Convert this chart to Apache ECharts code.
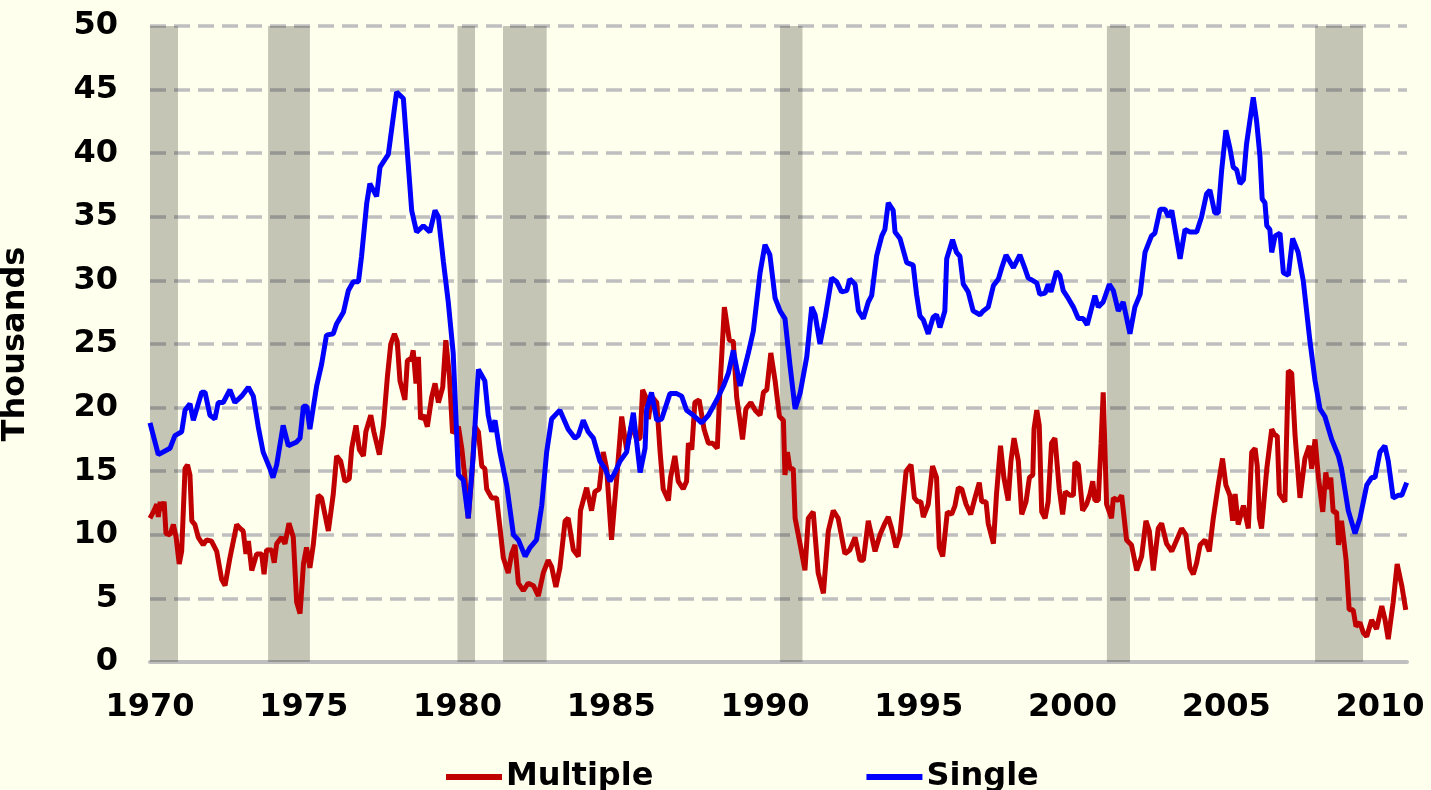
<!DOCTYPE html>
<html>
<head>
<meta charset="utf-8">
<script src="https://cdn.jsdelivr.net/npm/echarts@6/dist/echarts.min.js"></script>
<style>
  html, body { margin: 0; padding: 0; background: #FFFFEE; }
  #chart { width: 1431px; height: 790px; }
</style>
</head>
<body>
<div id="chart"></div>
<script>
// recession periods (start, end) in decimal years
const recessions = [[1970.0, 1970.91], [1973.84, 1975.2], [1980.0, 1980.57], [1981.48, 1982.9],
  [1990.49, 1991.22], [2001.12, 2001.87], [2007.89, 2009.45]];

// multi-unit starts, thousands  [decimal year, value]
const multiple = [[1970.0,11.3],[1970.11,11.8],[1970.22,12.4],[1970.27,11.4],[1970.33,12.6],[1970.38,11.9],[1970.46,12.6],[1970.52,10.1],[1970.65,10.0],[1970.76,10.8],[1970.85,9.8],[1970.95,7.7],[1971.03,8.7],[1971.14,15.2],[1971.22,15.5],[1971.3,14.7],[1971.36,11.1],[1971.46,10.8],[1971.57,9.8],[1971.73,9.2],[1971.84,9.6],[1972.0,9.5],[1972.17,8.7],[1972.33,6.5],[1972.44,6.0],[1972.6,8.2],[1972.82,10.8],[1972.93,10.5],[1973.03,10.3],[1973.12,8.5],[1973.2,9.5],[1973.31,7.2],[1973.47,8.5],[1973.63,8.5],[1973.71,6.9],[1973.79,8.8],[1973.96,8.8],[1974.04,7.8],[1974.12,9.3],[1974.28,9.8],[1974.39,9.3],[1974.52,10.9],[1974.66,9.8],[1974.77,4.7],[1974.88,3.8],[1974.99,7.7],[1975.09,9.0],[1975.2,7.4],[1975.31,9.2],[1975.47,13.1],[1975.58,12.9],[1975.8,10.3],[1975.96,13.2],[1976.07,16.2],[1976.2,15.8],[1976.34,14.2],[1976.48,14.4],[1976.56,16.8],[1976.7,18.6],[1976.81,16.7],[1976.94,16.2],[1977.02,18.1],[1977.18,19.4],[1977.28,18.1],[1977.46,16.3],[1977.59,18.6],[1977.72,22.4],[1977.83,25.0],[1977.95,25.8],[1978.04,25.2],[1978.13,22.1],[1978.29,20.6],[1978.37,23.7],[1978.51,23.9],[1978.56,24.5],[1978.65,21.9],[1978.73,24.0],[1978.8,19.1],[1978.91,19.4],[1979.02,18.5],[1979.16,20.8],[1979.27,21.9],[1979.38,20.4],[1979.52,21.6],[1979.62,25.3],[1979.74,22.4],[1979.84,18.0],[1980.03,18.5],[1980.14,16.8],[1980.24,14.5],[1980.35,11.3],[1980.46,14.5],[1980.57,18.5],[1980.68,18.1],[1980.79,15.4],[1980.89,15.2],[1980.95,13.6],[1981.11,12.9],[1981.27,12.9],[1981.38,10.6],[1981.49,8.2],[1981.65,7.0],[1981.76,8.5],[1981.87,9.2],[1981.98,6.2],[1982.14,5.6],[1982.3,6.2],[1982.47,6.0],[1982.63,5.2],[1982.79,7.0],[1982.95,8.0],[1983.06,7.5],[1983.2,5.9],[1983.33,7.4],[1983.5,11.1],[1983.6,11.3],[1983.77,8.8],[1983.93,8.3],[1984.0,11.9],[1984.2,13.7],[1984.36,11.9],[1984.47,13.4],[1984.61,13.6],[1984.74,16.5],[1984.85,15.2],[1985.01,9.6],[1985.18,14.5],[1985.34,19.3],[1985.5,16.7],[1985.66,18.6],[1985.83,17.5],[1985.94,17.6],[1986.02,21.4],[1986.13,20.8],[1986.21,19.1],[1986.31,20.9],[1986.48,20.4],[1986.59,16.5],[1986.69,13.6],[1986.86,12.7],[1986.93,14.5],[1987.07,16.2],[1987.18,14.2],[1987.34,13.6],[1987.45,14.2],[1987.51,17.2],[1987.62,16.7],[1987.72,20.4],[1987.86,20.6],[1988.02,18.3],[1988.16,17.2],[1988.3,17.2],[1988.45,16.8],[1988.54,21.7],[1988.68,27.9],[1988.84,25.3],[1988.97,25.2],[1989.08,20.8],[1989.27,17.5],[1989.38,19.9],[1989.54,20.4],[1989.68,19.8],[1989.84,19.4],[1989.95,21.2],[1990.06,21.4],[1990.19,24.3],[1990.33,22.1],[1990.47,19.3],[1990.6,19.0],[1990.65,14.7],[1990.73,16.5],[1990.81,15.2],[1990.92,15.2],[1990.98,11.3],[1991.14,9.3],[1991.3,7.2],[1991.41,11.3],[1991.57,11.8],[1991.73,7.0],[1991.9,5.4],[1992.06,10.3],[1992.22,11.9],[1992.38,11.3],[1992.6,8.5],[1992.76,8.8],[1992.93,9.8],[1993.09,8.0],[1993.2,8.0],[1993.36,11.1],[1993.58,8.7],[1993.74,10.0],[1993.9,10.9],[1994.01,11.4],[1994.12,10.5],[1994.26,9.0],[1994.39,10.0],[1994.59,15.0],[1994.75,15.5],[1994.86,12.9],[1994.97,12.6],[1995.07,12.6],[1995.15,11.4],[1995.31,12.4],[1995.45,15.4],[1995.58,14.5],[1995.67,9.0],[1995.78,8.3],[1995.93,11.8],[1996.07,11.6],[1996.18,12.3],[1996.29,13.7],[1996.4,13.6],[1996.54,12.4],[1996.69,11.6],[1996.83,12.9],[1996.97,14.1],[1997.05,12.6],[1997.19,12.6],[1997.26,10.9],[1997.43,9.3],[1997.53,13.2],[1997.66,17.0],[1997.77,14.5],[1997.91,12.7],[1998.0,15.8],[1998.1,17.6],[1998.24,15.8],[1998.35,11.6],[1998.49,12.6],[1998.6,14.5],[1998.71,14.7],[1998.75,18.3],[1998.84,19.8],[1998.92,18.6],[1999.0,11.8],[1999.11,11.3],[1999.21,12.6],[1999.32,17.2],[1999.43,17.6],[1999.57,13.6],[1999.68,11.6],[1999.77,13.4],[1999.92,13.1],[2000.03,13.1],[2000.08,15.7],[2000.19,15.5],[2000.33,11.9],[2000.46,12.4],[2000.57,13.2],[2000.66,14.2],[2000.73,12.7],[2000.84,12.7],[2000.93,17.2],[2001.0,21.2],[2001.11,12.4],[2001.27,11.3],[2001.33,12.9],[2001.49,12.7],[2001.6,13.1],[2001.76,9.6],[2001.92,9.2],[2002.09,7.2],[2002.25,8.3],[2002.39,11.1],[2002.5,10.3],[2002.63,7.2],[2002.79,10.5],[2002.9,10.9],[2003.06,9.3],[2003.23,8.7],[2003.39,9.6],[2003.55,10.5],[2003.69,10.0],[2003.82,7.4],[2003.93,6.9],[2004.04,7.8],[2004.15,9.2],[2004.31,9.6],[2004.45,8.7],[2004.58,11.3],[2004.74,13.9],[2004.88,16.0],[2004.99,13.9],[2005.12,13.1],[2005.21,11.1],[2005.29,13.2],[2005.39,10.8],[2005.56,12.3],[2005.72,10.5],[2005.83,16.5],[2005.94,16.8],[2006.01,15.4],[2006.08,11.3],[2006.15,10.5],[2006.32,15.2],[2006.48,18.3],[2006.59,17.8],[2006.66,17.8],[2006.73,13.2],[2006.91,12.6],[2007.02,22.9],[2007.13,22.7],[2007.24,17.8],[2007.4,12.9],[2007.56,16.0],[2007.7,17.0],[2007.78,15.2],[2007.89,17.5],[2008.0,14.5],[2008.14,11.8],[2008.24,14.9],[2008.32,13.6],[2008.4,14.5],[2008.48,11.8],[2008.59,11.8],[2008.65,9.2],[2008.75,11.1],[2008.9,8.0],[2009.0,4.1],[2009.13,4.1],[2009.22,2.8],[2009.35,3.1],[2009.46,2.3],[2009.57,2.0],[2009.73,3.3],[2009.89,2.6],[2010.06,4.4],[2010.16,3.4],[2010.27,1.8],[2010.43,4.7],[2010.56,7.7],[2010.71,6.0],[2010.84,4.1]];

// single-unit starts, thousands  [decimal year, value]
const single = [[1970.0,18.8],[1970.27,16.3],[1970.65,16.8],[1970.81,17.8],[1971.03,18.1],[1971.14,19.8],[1971.3,20.3],[1971.41,19.0],[1971.68,21.2],[1971.79,21.2],[1971.95,19.4],[1972.11,19.1],[1972.22,20.4],[1972.38,20.4],[1972.6,21.4],[1972.76,20.4],[1972.98,20.9],[1973.2,21.6],[1973.36,20.9],[1973.52,18.5],[1973.68,16.5],[1973.9,15.2],[1974.0,14.5],[1974.12,15.5],[1974.33,18.6],[1974.5,17.0],[1974.77,17.3],[1974.88,17.6],[1974.99,20.1],[1975.1,20.1],[1975.2,18.3],[1975.42,21.7],[1975.58,23.4],[1975.74,25.7],[1975.96,25.8],[1976.07,26.6],[1976.29,27.5],[1976.45,29.2],[1976.61,29.9],[1976.78,29.9],[1976.88,31.9],[1977.05,36.1],[1977.15,37.6],[1977.37,36.6],[1977.48,38.9],[1977.75,39.9],[1978.02,44.8],[1978.24,44.3],[1978.51,35.5],[1978.67,33.8],[1978.89,34.3],[1979.1,33.8],[1979.27,35.5],[1979.38,35.0],[1979.54,31.5],[1979.7,28.3],[1979.86,24.3],[1980.03,14.7],[1980.19,14.3],[1980.35,11.3],[1980.51,16.2],[1980.68,23.0],[1980.89,22.1],[1981.0,19.4],[1981.11,18.1],[1981.22,19.0],[1981.38,16.5],[1981.6,13.9],[1981.82,10.0],[1981.98,9.6],[1982.2,8.3],[1982.36,9.0],[1982.57,9.6],[1982.74,12.3],[1982.9,16.5],[1983.06,19.1],[1983.33,19.8],[1983.6,18.3],[1983.82,17.6],[1983.93,17.8],[1984.09,19.0],[1984.25,18.1],[1984.42,17.6],[1984.63,15.8],[1984.8,15.2],[1984.96,14.2],[1985.12,14.9],[1985.29,15.8],[1985.5,16.5],[1985.72,19.6],[1985.94,14.9],[1986.1,16.8],[1986.15,19.8],[1986.31,21.2],[1986.48,19.0],[1986.64,19.1],[1986.91,21.1],[1987.13,21.1],[1987.29,20.9],[1987.45,19.8],[1987.67,19.4],[1987.94,18.8],[1988.16,19.4],[1988.43,20.6],[1988.65,21.7],[1988.81,22.7],[1988.97,24.5],[1989.19,21.7],[1989.46,24.3],[1989.62,26.0],[1989.84,30.6],[1990.0,32.8],[1990.16,32.0],[1990.33,28.6],[1990.49,27.6],[1990.65,27.0],[1990.81,23.4],[1990.98,19.9],[1991.14,21.1],[1991.36,24.0],[1991.52,27.9],[1991.63,27.3],[1991.79,25.0],[1991.95,27.0],[1992.17,30.2],[1992.33,29.9],[1992.49,29.1],[1992.66,29.2],[1992.76,30.1],[1992.93,29.7],[1993.04,27.6],[1993.2,27.0],[1993.36,28.3],[1993.47,28.8],[1993.63,31.9],[1993.8,33.5],[1993.9,34.0],[1994.01,36.1],[1994.17,35.5],[1994.23,33.8],[1994.39,33.3],[1994.61,31.4],[1994.82,31.2],[1994.93,28.9],[1995.04,27.2],[1995.15,26.9],[1995.31,25.8],[1995.47,27.1],[1995.58,27.3],[1995.69,26.3],[1995.85,27.6],[1995.91,31.7],[1996.1,33.2],[1996.23,32.2],[1996.34,31.9],[1996.45,29.7],[1996.61,29.1],[1996.77,27.6],[1996.99,27.3],[1997.1,27.6],[1997.26,27.9],[1997.43,29.6],[1997.59,30.1],[1997.7,31.0],[1997.84,32.0],[1998.08,31.0],[1998.29,32.0],[1998.46,30.9],[1998.56,30.2],[1998.84,29.8],[1998.94,28.9],[1999.11,29.0],[1999.21,29.7],[1999.3,29.1],[1999.48,30.7],[1999.59,30.4],[1999.7,29.2],[1999.86,28.6],[2000.03,27.9],[2000.19,27.0],[2000.35,27.0],[2000.48,26.5],[2000.62,27.8],[2000.73,28.8],[2000.84,27.9],[2001.0,28.3],[2001.2,29.7],[2001.33,29.2],[2001.49,27.6],[2001.65,28.3],[2001.87,25.8],[2002.03,27.9],[2002.2,28.9],[2002.36,32.2],[2002.57,33.5],[2002.68,33.7],[2002.85,35.6],[2003.01,35.6],[2003.12,35.0],[2003.23,35.5],[2003.5,31.7],[2003.66,34.0],[2003.82,33.8],[2004.04,33.8],[2004.2,35.0],[2004.36,36.8],[2004.47,37.1],[2004.63,35.3],[2004.74,35.3],[2004.85,38.6],[2004.99,41.8],[2005.12,40.4],[2005.23,38.9],[2005.34,38.7],[2005.45,37.6],[2005.56,37.9],[2005.66,40.7],[2005.88,44.4],[2005.99,42.5],[2006.1,39.7],[2006.17,36.4],[2006.26,36.1],[2006.32,34.3],[2006.42,34.0],[2006.48,32.2],[2006.59,33.5],[2006.75,33.7],[2006.86,30.6],[2007.02,30.4],[2007.16,33.3],[2007.34,32.2],[2007.51,29.9],[2007.72,25.3],[2007.89,22.1],[2008.05,19.9],[2008.21,19.3],[2008.43,17.5],[2008.65,16.2],[2008.75,15.2],[2008.97,11.9],[2009.19,10.1],[2009.35,11.3],[2009.57,13.9],[2009.73,14.5],[2009.84,14.5],[2010.0,16.5],[2010.16,17.0],[2010.27,15.8],[2010.43,12.9],[2010.6,13.1],[2010.71,13.1],[2010.87,14.1]];

const font = { fontFamily: 'DejaVu Sans', fontWeight: 'bold', fontSize: 32, color: '#000' };

const chart = echarts.init(document.getElementById('chart'));
chart.setOption({
  animation: false,
  backgroundColor: '#FFFFEE',
  grid: { left: 150, right: 24, top: 26, bottom: 128, containLabel: false, outerBoundsMode: 'none' },
  legend: {
    data: ['Multiple', 'Single'],
    left: 441, top: 756,
    icon: 'rect', itemWidth: 56, itemHeight: 6, itemGap: 213,
    textStyle: Object.assign({ padding: [0, 0, 0, -1] }, font)
  },
  xAxis: {
    type: 'value', min: 1970, max: 2010.88, interval: 5,
    axisLine: { lineStyle: { color: '#BFBFBF', width: 4 } },
    axisTick: { show: false },
    splitLine: { show: false },
    axisLabel: Object.assign({ margin: 30, showMaxLabel: false,
      formatter: v => (v % 5 === 0 ? String(v) : '') }, font)
  },
  yAxis: {
    type: 'value', min: 0, max: 50, interval: 5,
    name: 'Thousands', nameLocation: 'middle', nameGap: 118,
    nameTextStyle: font,
    axisLine: { show: false },
    axisTick: { show: false },
    axisLabel: Object.assign({ margin: 32 }, font),
    splitLine: { lineStyle: { color: '#BFBFBF', width: 3.5, type: [16, 8] } }
  },
  series: [
    {
      name: 'Recession', type: 'line', data: [], z: 1, silent: true,
      markArea: {
        silent: true,
        itemStyle: { color: 'rgba(40,40,30,0.27)' },
        data: recessions.map(r => [{ xAxis: r[0], yAxis: 0 }, { xAxis: r[1], yAxis: 50 }])
      }
    },
    {
      name: 'Multiple', type: 'line', data: multiple, z: 3,
      showSymbol: false, symbol: 'none',
      lineStyle: { color: '#C00000', width: 5 }, itemStyle: { color: '#C00000' }
    },
    {
      name: 'Single', type: 'line', data: single, z: 4,
      showSymbol: false, symbol: 'none',
      lineStyle: { color: '#0000FF', width: 5 }, itemStyle: { color: '#0000FF' }
    }
  ]
});
</script>
</body>
</html>
